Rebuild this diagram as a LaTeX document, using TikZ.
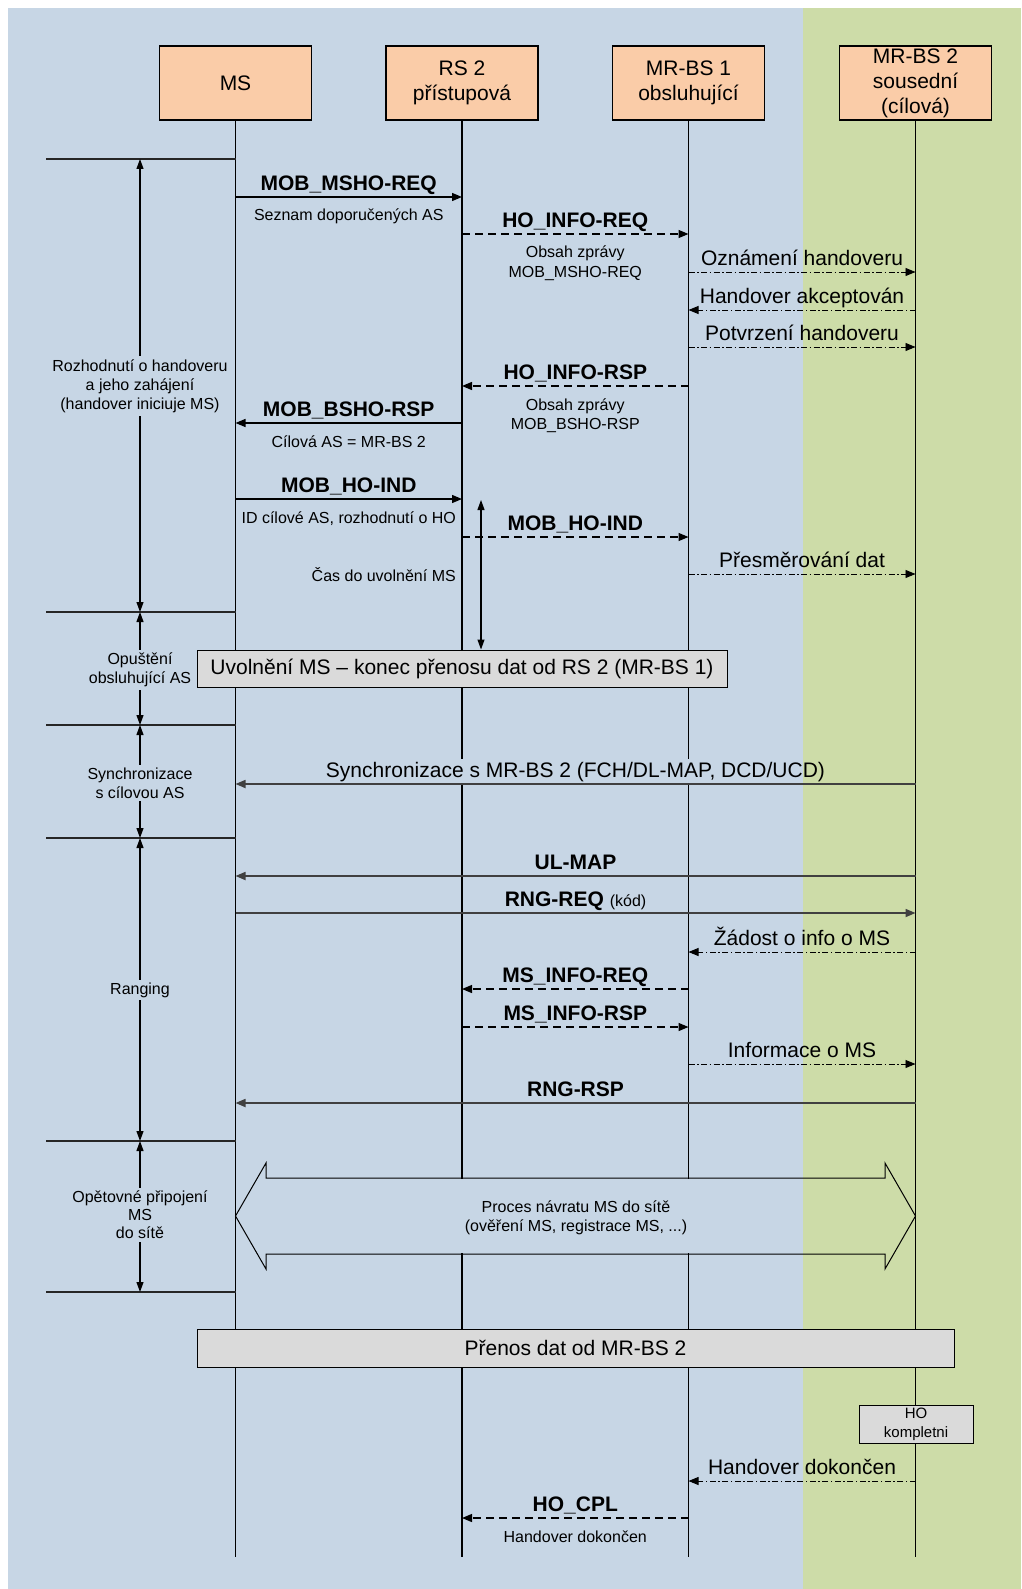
\documentclass[tikz,border=0pt]{standalone}
\usepackage{fontspec}
\setmainfont{Liberation Sans}
\usetikzlibrary{arrows.meta,calc}
\definecolor{bluebg}{RGB}{199,214,229}
\definecolor{greenbg}{RGB}{205,220,168}
\definecolor{peach}{RGB}{250,204,168}
\definecolor{boxgray}{RGB}{218,218,218}
\pgfdeclarelayer{bg}\pgfdeclarelayer{lines}\pgfdeclarelayer{mask}
\pgfsetlayers{bg,lines,mask,main}
\newcommand\fbig{\fontsize{21}{25}\selectfont}
\newcommand\fsml{\fontsize{16}{19}\selectfont}
\newcommand\ftiny{\fontsize{15}{19}\selectfont}
\begin{document}
\begin{tikzpicture}[x=1pt,y=-1pt,
  hdr/.style={draw, line width=1.3pt, fill=peach, minimum width=152pt, minimum height=74pt, inner sep=0pt, align=center, font=\fbig},
  life/.style={line width=1.5pt},
  tipA/.style={-{Triangle[length=10pt,width=8pt]}},
  smsg/.style={line width=1.3pt, tipA},
  dmsg/.style={line width=1.3pt, dash pattern=on 8pt off 5pt, tipA},
  ddmsg/.style={line width=0.9pt, dash pattern=on 6pt off 2.5pt on 1.5pt off 2.5pt, tipA},
  gmsg/.style={line width=1.7pt, draw=black!75, tipA},
  ab/.style={midway, anchor=base, yshift=6.5pt, inner sep=0pt},
  bl/.style={ab, font=\fbig\bfseries},
  rl/.style={ab, font=\fbig},
  beA/.style={midway, anchor=base, yshift=-24pt, inner sep=0pt, font=\fsml},
  beB/.style={midway, anchor=base, yshift=-43pt, inner sep=0pt, font=\fsml},
  pline/.style={line width=1.1pt, draw=black!85},
  pa/.style={line width=1.1pt, {Triangle[length=10pt,width=7pt]}-{Triangle[length=10pt,width=7pt]}},
  phl/.style={fill=bluebg, inner xsep=3pt, inner ysep=3pt, align=center, font=\fsml},
  gbox/.style={draw, line width=1pt, fill=boxgray, inner sep=0pt}
]
\useasboundingbox (0,0) rectangle (1021,1589);
\begin{pgfonlayer}{bg}
  \fill[white] (0,0) rectangle (1021,1589);
  \fill[bluebg] (8,8) rectangle (803,1589);
  \fill[greenbg] (803,8) rectangle (1021,1589);
\end{pgfonlayer}
\coordinate (gb) at (803,0);

% headers
\node[hdr] (ms)  at (235.5,83) {MS};
\node[hdr] (rs)  at (462,83)   {RS 2\\přístupová};
\node[hdr] (bs1) at (688.5,83) {MR-BS 1\\obsluhující};
\node[hdr] (bs2) at (915.5,83) {MR-BS 2\\sousední\\(cílová)};

% lifelines
\coordinate (msE)  at (ms |- 0,1557);
\coordinate (rsE)  at (rs |- 0,1557);
\coordinate (bs1E) at (bs1 |- 0,1557);
\coordinate (bs2E) at (bs2 |- 0,1557);
\begin{pgfonlayer}{lines}
  \draw[life] (ms.south) -- (msE);
  \draw[life] (rs.south) -- (rsE);
  \draw[life] (bs1.south) -- (bs1E);
  \draw[life] (bs2.south) -- (bs2E);
\end{pgfonlayer}

% phase separators
\foreach \i/\yy in {1/159,2/612,3/725,4/838,5/1141,6/1292}{
  \coordinate (p\i) at (46,\yy);
  \coordinate (q\i) at (140,\yy);
}
\foreach \i in {1,...,6}{ \draw[pline] (p\i) -- (ms |- p\i); }
\draw[pa] (q1) -- (q2);
\draw[pa] (q2) -- (q3);
\draw[pa] (q3) -- (q4);
\draw[pa] (q4) -- (q5);
\draw[pa] (q5) -- (q6);
\node[phl] (ph1) at (140,386) {Rozhodnutí o handoveru\\a jeho zahájení\\(handover iniciuje MS)};
\node[phl] (ph2) at (140,670) {Opuštění\\obsluhující AS};
\node[phl] (ph3) at (140,783) {Synchronizace\\s cílovou AS};
\node[phl] (ph4) at (140,990) {Ranging};
\node[phl, font=\fontsize{16}{18}\selectfont] (ph5) at (140,1215) {Opětovné připojení\\MS\\do sítě};

% messages
\draw[smsg] (ms |- 0,197) -- node[bl] (m1) {MOB\_MSHO-REQ} node[beA] (m1a) {Seznam doporučených AS} (rs |- 0,197);
\draw[dmsg] (rs |- 0,234) -- node[bl] (m2) {HO\_INFO-REQ} node[beA] (m2a) {Obsah zprávy} node[beB] (m2b) {MOB\_MSHO-REQ} (bs1 |- 0,234);
\draw[ddmsg] (bs1 |- 0,272) -- node[rl] (m3) {Oznámení handoveru} (bs2 |- 0,272);
\draw[ddmsg] (bs2 |- 0,310) -- node[rl] (m4) {Handover akceptován} (bs1 |- 0,310);
\draw[ddmsg] (bs1 |- 0,347) -- node[rl] (m5) {Potvrzení handoveru} (bs2 |- 0,347);
\draw[dmsg] (bs1 |- 0,386) -- node[bl] (m6) {HO\_INFO-RSP} node[beA] (m6a) {Obsah zprávy} node[beB] (m6b) {MOB\_BSHO-RSP} (rs |- 0,386);
\draw[smsg] (rs |- 0,423) -- node[bl] (m7) {MOB\_BSHO-RSP} node[beA] (m7a) {Cílová AS = MR-BS 2} (ms |- 0,423);
\draw[smsg] (ms |- 0,499) -- node[bl] (m8) {MOB\_HO-IND} node[beA] (m8a) {ID cílové AS, rozhodnutí o HO} (rs |- 0,499);
\draw[dmsg] (rs |- 0,537) -- node[bl] (m9) {MOB\_HO-IND} (bs1 |- 0,537);
\draw[ddmsg] (bs1 |- 0,574) -- node[rl] (m10) {Přesměrování dat} (bs2 |- 0,574);
\node[font=\fsml, anchor=base east, inner sep=0pt] (cas) at (456,581) {Čas do uvolnění MS};

% release box + time arrow
\node[gbox, minimum width=530pt, minimum height=37pt, font=\fbig] (rel) at (462,668.5) {Uvolnění MS – konec přenosu dat od RS 2 (MR-BS 1)};
\coordinate (t1) at (481,500);
\draw[pa] (t1) -- (t1 |- rel.north);

% sync
\draw[gmsg] (bs2 |- 0,784) -- node[rl, inner sep=2pt] (sync) {Synchronizace s MR-BS 2 (FCH/DL-MAP, DCD/UCD)} (ms |- 0,784);
\begin{pgfonlayer}{mask}
  \fill[bluebg] (sync.south west) rectangle (sync.north east -| gb);
  \fill[bluebg] (267,1179) rectangle (803,1253);
\end{pgfonlayer}

% ranging
\draw[gmsg] (bs2 |- 0,876) -- node[bl] (m12) {UL-MAP} (ms |- 0,876);
\draw[gmsg] (ms |- 0,913) -- node[bl] (m13) {RNG-REQ {\fsml\mdseries (kód)}} (bs2 |- 0,913);
\draw[ddmsg] (bs2 |- 0,952) -- node[rl] (m14) {Žádost o info o MS} (bs1 |- 0,952);
\draw[dmsg] (bs1 |- 0,989) -- node[bl] (m15) {MS\_INFO-REQ} (rs |- 0,989);
\draw[dmsg] (rs |- 0,1027) -- node[bl] (m16) {MS\_INFO-RSP} (bs1 |- 0,1027);
\draw[ddmsg] (bs1 |- 0,1064) -- node[rl] (m17) {Informace o MS} (bs2 |- 0,1064);
\draw[gmsg] (bs2 |- 0,1103) -- node[bl] (m18) {RNG-RSP} (ms |- 0,1103);

% network re-entry block arrow
\coordinate (bl) at (ms |- 0,1216);
\coordinate (br) at (bs2 |- 0,1216);
\draw[line width=1pt] (bl) -- (266,1163) -- (266,1178) -- (885,1178) -- (885,1163) -- (br)
  -- (885,1269) -- (885,1254) -- (266,1254) -- (266,1269) -- cycle;
\node[font=\fsml, align=center, inner sep=0pt] (proc) at (576,1218)
  {Proces návratu MS do sítě\\(ověření MS, registrace MS, ...)};

% data transfer
\node[gbox, minimum width=757pt, minimum height=38pt, font=\fbig] (tx) at (575.5,1348) {Přenos dat od MR-BS 2};
\node[gbox, minimum width=114pt, minimum height=38pt, font=\ftiny, align=center] (hok) at (916,1424) {HO\\kompletni};

\draw[ddmsg] (bs2 |- 0,1481) -- node[rl] (m19) {Handover dokončen} (bs1 |- 0,1481);
\draw[dmsg] (bs1 |- 0,1518) -- node[bl] (m20) {HO\_CPL} node[beA] (m20a) {Handover dokončen} (rs |- 0,1518);
\end{tikzpicture}
\end{document}
